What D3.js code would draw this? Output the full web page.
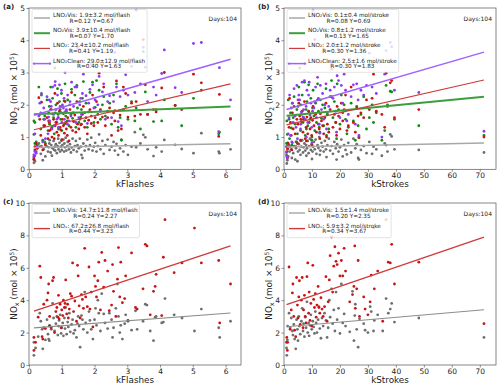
<!DOCTYPE html>
<html><head><meta charset="utf-8">
<script src="https://cdn.jsdelivr.net/npm/d3@7"></script>
<style>
body { margin: 0; background: #fff; }
text { font-family: "DejaVu Sans", sans-serif; }
</style></head>
<body><div id="chart"></div>
<script>
// daily values, columns: kFlashes, LNO2Vis, NO2Vis, LNO2, LNO2Clean  (mol x 10^5)
const daysA = [
 [0.15,0.20,1.50,0.30,0.45],[0.15,0.30,1.08,0.35,0.40],[0.18,0.42,0.80,0.70,0.55],[0.18,0.25,1.45,0.60,1.10],
 [0.22,0.55,0.85,0.80,0.50],[0.25,0.65,0.75,0.65,0.72],[0.30,0.80,2.55,2.22,1.65],[0.33,0.70,1.70,1.55,2.05],
 [0.36,0.48,1.25,1.05,1.75],[0.38,0.72,2.30,2.08,2.35],[0.42,0.28,0.90,0.60,0.85],[0.45,0.62,1.55,1.35,1.90],
 [0.48,0.85,1.65,1.35,1.55],[0.50,0.40,0.80,0.75,0.95],[0.55,0.70,2.15,1.60,2.25],[0.58,0.55,1.20,0.95,1.10],
 [0.60,0.68,1.75,1.50,1.62],[0.62,0.80,1.95,1.45,2.15],[0.63,0.90,1.40,1.20,1.50],[0.66,0.52,2.55,1.85,2.10],
 [0.68,0.75,1.85,1.25,1.95],[0.70,0.42,1.30,1.00,1.25],[0.72,0.65,2.20,1.72,2.55],[0.75,0.88,1.60,1.55,1.70],
 [0.77,0.60,1.10,0.95,1.35],[0.79,0.70,3.14,2.35,2.60],[0.80,0.58,1.75,1.35,2.72],[0.82,0.78,2.00,1.45,1.85],
 [0.85,0.50,1.45,1.15,1.55],[0.87,0.72,2.50,2.05,2.30],[0.89,0.95,1.70,1.60,1.60],[0.90,0.62,1.25,1.05,1.30],
 [0.93,0.82,2.10,1.80,2.62],[0.95,0.55,1.85,1.30,1.95],[0.97,0.70,1.55,1.22,1.75],[0.99,0.88,2.35,1.75,2.45],
 [1.00,0.60,1.20,0.92,1.45],[1.02,0.75,1.95,1.55,2.00],[1.05,0.92,1.72,1.35,1.90],[1.07,0.55,2.12,1.75,2.20],
 [1.08,0.80,1.40,1.12,1.55],[1.10,0.68,2.65,2.10,3.00],[1.12,0.98,1.65,1.45,1.80],[1.14,0.58,1.80,1.25,1.85],
 [1.17,0.72,1.50,1.05,1.40],[1.18,0.85,2.15,1.60,2.30],[1.22,0.62,1.35,0.88,1.50],[1.25,0.78,2.00,1.85,2.10],
 [1.28,0.52,1.70,1.30,1.65],[1.30,0.68,2.48,2.38,2.70],[1.33,0.95,1.58,1.20,1.75],[1.36,0.60,1.75,1.48,1.95],
 [1.40,0.72,2.30,1.68,2.55],[1.43,0.88,1.30,1.15,1.45],[1.46,0.55,2.60,2.10,2.55],[1.48,0.75,1.90,1.40,3.76],
 [1.52,0.65,1.45,1.25,1.60],[1.55,0.95,2.10,1.55,2.00],[1.58,0.70,1.62,1.38,2.20],[1.60,0.45,1.85,1.40,1.70],
 [1.63,0.35,2.20,1.70,2.35],[1.66,0.80,2.72,1.95,2.95],[1.70,0.58,1.50,1.30,1.75],[1.74,0.72,2.05,1.60,2.28],
 [1.78,0.92,1.30,1.10,1.42],[1.82,0.62,1.78,1.52,2.05],[1.86,0.75,2.38,1.85,2.48],[1.90,0.98,1.65,1.42,3.25],
 [1.94,0.58,2.70,2.30,2.62],[1.98,0.70,1.45,1.35,1.90],[2.02,0.82,1.92,1.60,2.15],[2.06,0.55,2.75,2.10,3.72],
 [2.10,0.72,1.70,1.45,2.00],[2.14,1.08,2.45,2.98,2.88],[2.18,0.62,1.55,1.85,1.80],[2.24,0.88,2.00,1.62,2.40],
 [2.28,0.48,2.25,2.55,2.65],[2.33,0.75,1.65,1.35,1.55],[2.40,0.92,1.80,1.60,2.10],[2.46,0.60,2.05,1.90,2.28],
 [2.52,0.70,1.40,1.05,1.60],[2.58,0.85,2.30,1.75,2.10],[2.62,0.58,1.82,1.50,3.62],[2.67,0.79,2.65,2.74,2.55],
 [2.72,0.45,1.30,1.20,1.48],[2.78,0.65,1.60,1.68,2.25],[2.82,0.92,0.90,1.25,1.35],[2.88,0.55,1.85,2.55,2.45],
 [2.95,0.75,1.95,2.35,2.93],[3.02,0.45,1.55,1.62,2.30],[3.13,0.70,2.10,2.05,3.19],[3.23,1.15,1.50,1.65,2.38],
 [3.27,0.68,1.90,2.10,4.93],[3.40,0.80,1.25,1.70,2.65],[3.49,1.07,3.65,4.02,3.78],[3.55,0.99,2.40,2.62,3.17],
 [3.62,0.62,1.70,1.70,2.10],[3.80,0.41,1.48,1.85,2.55],[3.88,0.68,1.85,1.78,2.30],[4.05,0.55,1.50,2.52,2.97],
 [4.13,0.91,2.15,3.00,3.70],[4.46,0.76,1.98,1.98,2.53],[4.66,0.63,1.35,1.85,2.38],[5.02,0.50,2.20,2.95,3.90],
 [5.26,1.12,2.45,2.68,3.93],[5.79,0.55,1.10,1.02,1.17],[5.81,0.50,1.15,2.32,3.15],[6.15,0.62,1.58,1.55,2.15]
];
// columns: kStrokes, LNO2Vis, NO2Vis, LNO2, LNO2Clean
const daysB = [
 [0.9,0.45,0.80,0.70,0.52],[1.0,0.18,1.50,0.55,0.40],[1.2,0.28,1.08,0.35,0.35],[1.3,0.62,0.82,0.65,0.72],
 [1.5,0.40,2.15,0.80,1.10],[1.8,0.75,1.55,1.30,1.60],[2.0,0.55,0.95,2.20,2.30],[2.3,0.70,1.75,1.45,1.05],
 [2.6,0.62,1.28,1.05,1.90],[2.8,0.35,0.75,0.60,0.85],[3.0,0.82,2.05,1.75,2.05],[3.3,0.50,1.60,1.25,1.45],
 [3.6,0.72,2.25,1.95,2.50],[4.0,0.30,1.40,1.10,1.65],[4.3,0.65,0.85,0.70,1.30],[4.6,0.85,1.85,1.55,2.60],
 [4.8,0.25,1.10,0.80,0.95],[5.0,0.55,1.95,1.40,2.15],[5.3,0.78,2.55,2.05,2.30],[5.6,0.60,3.14,1.65,2.15],
 [5.9,0.45,1.20,0.90,1.25],[6.0,0.88,2.00,1.55,1.40],[6.2,0.70,1.70,1.48,1.78],[6.5,0.90,2.30,1.80,2.70],
 [6.8,0.52,1.45,1.15,1.62],[7.0,0.68,1.60,1.55,1.85],[7.3,0.80,2.70,2.10,2.75],[7.6,0.58,1.05,0.95,1.55],
 [7.9,0.75,1.85,1.30,1.95],[8.0,0.42,1.25,0.88,1.00],[8.2,0.65,2.10,1.62,2.45],[8.5,0.88,1.35,1.10,1.45],
 [8.8,0.50,2.62,1.80,2.30],[9.0,0.72,1.75,1.45,2.70],[9.3,0.95,1.55,1.25,1.68],[9.6,0.60,2.20,1.60,2.05],
 [9.9,0.78,0.90,1.05,1.30],[10.0,0.32,1.00,0.75,0.82],[10.2,0.55,1.90,1.52,1.80],[10.4,0.70,2.45,1.95,4.93],
 [10.7,0.85,1.65,1.35,1.90],[11.0,0.62,1.20,4.02,2.10],[11.3,0.92,2.05,1.70,2.55],[11.6,0.48,1.45,1.15,1.60],
 [12.0,0.75,2.65,2.15,2.85],[12.3,0.66,1.80,1.40,2.20],[12.6,1.00,1.30,1.25,1.40],[12.8,0.45,1.15,0.95,1.12],
 [13.0,0.58,2.15,1.72,2.60],[13.4,0.82,1.58,1.50,1.85],[13.8,0.70,2.00,1.35,2.35],[14.2,0.55,1.35,1.10,1.55],
 [14.6,0.88,1.90,1.60,2.00],[15.0,0.62,2.50,2.05,2.65],[15.2,0.38,1.05,1.00,1.25],[15.5,0.75,1.70,1.40,1.75],
 [16.0,0.95,1.25,1.15,1.95],[16.5,0.58,2.25,1.85,2.45],[17.0,0.72,2.75,2.25,3.10],[17.5,0.48,1.60,1.30,2.20],
 [18.0,0.85,2.10,1.70,2.55],[18.5,0.65,1.45,1.45,1.80],[18.8,0.30,0.95,1.05,1.15],[19.0,0.78,2.65,1.95,2.90],
 [19.5,0.55,1.85,1.65,2.75],[20.0,0.68,1.40,1.25,1.60],[20.5,0.92,2.30,2.05,2.60],[21.0,0.40,1.75,1.50,2.05],
 [21.5,0.75,2.00,1.85,2.95],[22.0,0.60,1.55,2.30,2.45],[22.5,0.46,1.10,1.20,1.50],[23.0,0.82,1.30,1.35,1.70],
 [24.0,0.52,2.05,2.55,2.25],[24.8,0.95,1.50,1.45,2.62],[25.5,0.65,0.90,1.15,1.40],[26.0,0.78,1.95,1.90,2.65],
 [26.5,0.35,1.35,1.65,2.15],[26.8,0.30,1.00,0.98,1.05],[27.5,0.60,1.70,1.75,2.45],[28.5,0.72,2.25,1.60,2.30],
 [29.5,0.50,1.25,2.15,2.60],[30.5,0.85,1.60,1.85,3.60],[31.5,0.48,2.00,2.20,2.55],[32.0,0.70,1.45,2.95,3.85],
 [33.0,0.62,1.75,1.80,2.35],[35.0,0.42,0.90,1.70,1.00],[36.0,0.80,1.20,1.30,2.95],[36.5,0.75,2.60,2.98,3.68],
 [37.0,0.55,2.00,1.95,4.79],[38.0,1.08,2.42,2.68,3.93],[38.5,1.02,2.40,2.75,3.80],[39.5,0.62,1.55,1.60,2.45],
 [48.2,0.60,1.35,1.85,2.38],[71.5,0.52,1.05,1.00,1.18]
];
// columns: kFlashes, LNOxVis, LNOx
const daysC = [
 [0.15,0.60,0.90],[0.15,1.40,1.70],[0.20,1.05,1.40],[0.28,1.75,2.95],[0.33,3.20,6.10],[0.36,2.70,5.40],
 [0.40,2.20,1.75],[0.42,1.00,1.60],[0.45,2.30,3.75],[0.50,1.55,2.25],[0.55,2.80,4.00],[0.58,1.90,4.45],
 [0.60,1.60,5.00],[0.62,1.50,2.40],[0.63,2.45,3.00],[0.68,2.20,2.30],[0.72,3.80,5.20],[0.75,2.90,5.40],
 [0.78,2.10,2.00],[0.82,2.55,3.30],[0.85,3.00,3.55],[0.88,1.85,2.95],[0.90,2.40,4.30],[0.92,2.75,2.85],
 [0.95,3.10,3.75],[0.98,1.95,2.30],[1.00,2.30,3.40],[1.03,2.60,3.05],[1.05,1.80,4.00],[1.08,2.90,3.55],
 [1.10,2.25,3.80],[1.12,3.55,5.25],[1.15,1.90,3.15],[1.18,2.65,3.75],[1.20,2.35,2.90],[1.23,3.20,3.45],
 [1.26,2.05,4.40],[1.30,2.50,4.25],[1.33,2.80,6.30],[1.36,1.95,3.30],[1.40,2.15,3.95],[1.45,1.70,2.70],
 [1.48,2.55,6.15],[1.50,3.00,5.50],[1.53,2.40,3.65],[1.56,1.10,2.90],[1.60,3.05,4.35],[1.63,2.80,4.05],
 [1.66,2.20,3.50],[1.70,4.50,7.20],[1.73,2.60,4.20],[1.78,2.00,3.60],[1.83,3.30,6.05],[1.86,2.75,3.45],
 [1.90,2.20,4.50],[1.95,1.60,2.35],[2.00,2.80,5.50],[2.03,3.50,4.85],[2.06,2.45,4.20],[2.10,4.00,5.20],
 [2.13,3.20,6.35],[2.18,2.10,3.40],[2.22,4.40,6.95],[2.28,3.15,4.80],[2.32,2.60,6.45],[2.40,2.25,5.80],
 [2.45,3.20,3.35],[2.52,2.80,3.70],[2.55,1.70,6.20],[2.58,2.30,4.55],[2.65,3.50,3.00],[2.70,5.00,5.30],
 [2.73,3.00,7.25],[2.77,2.00,4.20],[2.80,2.45,6.35],[2.85,1.60,3.85],[2.92,2.55,4.10],[2.95,3.10,5.50],
 [3.02,2.70,2.75],[3.13,2.15,6.92],[3.25,3.35,3.55],[3.30,2.20,3.45],[3.48,2.70,4.70],[3.55,3.75,7.45],
 [3.60,3.70,7.35],[3.70,2.10,3.10],[3.80,1.50,4.55],[3.85,2.95,4.85],[3.88,3.00,5.60],[4.05,2.60,3.05],
 [4.10,2.65,6.65],[4.15,4.10,8.97],[4.43,3.10,5.70],[4.67,2.90,6.30],[5.05,2.10,8.45],[5.26,3.45,6.30],
 [5.79,2.30,6.45],[5.82,1.70,2.60],[6.15,2.70,5.00]
];
// columns: kStrokes, LNOxVis, LNOx
const daysD = [
 [0.9,1.05,1.40],[1.0,0.60,1.70],[1.2,1.55,0.90],[1.3,2.40,1.40],[1.8,3.20,6.05],[2.2,2.30,2.20],
 [2.6,2.90,3.40],[3.0,2.10,4.45],[3.2,1.85,5.00],[3.5,2.50,3.00],[3.8,1.60,2.15],[4.2,1.00,1.75],
 [4.5,2.80,5.40],[4.8,2.20,3.70],[5.0,1.50,2.90],[5.3,3.00,4.20],[5.5,2.40,5.20],[5.8,1.90,2.50],
 [6.2,2.70,4.00],[6.5,3.50,5.40],[6.8,2.10,2.30],[7.0,2.55,3.40],[7.3,1.75,4.30],[7.6,2.95,3.00],
 [7.9,2.30,2.60],[8.2,3.90,5.45],[8.5,2.00,6.30],[8.8,2.60,3.20],[9.0,1.80,4.50],[9.3,2.45,2.75],
 [9.6,3.10,3.80],[9.9,2.20,2.40],[10.3,2.70,6.15],[10.6,2.35,4.05],[10.9,1.95,3.55],[11.2,3.30,4.40],
 [11.5,2.60,2.95],[11.8,2.00,3.70],[12.2,2.80,4.85],[12.5,3.60,3.55],[12.8,2.25,3.20],[13.2,1.65,4.15],
 [13.6,2.90,3.45],[14.0,2.40,3.00],[14.5,3.20,3.60],[15.0,2.75,5.45],[15.4,1.70,2.70],[15.8,2.30,3.90],
 [16.2,4.00,5.25],[16.5,2.95,6.75],[17.0,4.70,7.90],[17.4,2.55,4.50],[17.8,3.40,6.10],[18.2,2.10,7.30],
 [18.6,4.50,6.40],[19.0,2.80,6.20],[19.5,3.50,6.90],[20.0,1.95,5.50],[20.5,5.00,6.45],[21.0,2.60,5.50],
 [21.5,3.15,7.20],[22.0,2.40,5.80],[23.5,2.05,3.90],[24.5,4.55,4.35],[25.0,1.50,4.85],[25.3,3.05,7.35],
 [25.5,3.75,3.50],[26.0,2.20,4.70],[26.5,1.10,6.45],[27.0,2.85,3.00],[28.5,2.55,4.20],[29.0,2.15,3.45],
 [30.0,2.00,3.10],[30.8,3.60,3.90],[31.2,3.30,5.55],[32.0,2.10,8.45],[32.3,2.75,4.70],[33.5,3.10,5.80],
 [35.3,2.10,2.70],[36.5,4.10,8.97],[37.3,3.20,6.35],[38.0,3.45,6.30],[38.5,3.80,7.45],[39.5,2.65,5.00],
 [48.2,2.90,6.35],[71.5,1.70,2.55]
];

// regression lines [intercept, slope]
const fitsA = [[0.67,0.020],[1.70,0.040],[1.19,0.237],[1.63,0.290]];
const fitsB = [[0.69,0.0017],[1.65,0.0084],[1.36,0.0197],[1.83,0.0252]];
const fitsC = [[2.27,0.153],[3.23,0.67]];
const fitsD = [[2.35,0.0148],[3.67,0.059]];

const legendA = [["LNO₂Vis: 1.9±3.2 mol/flash","R=0.12 Y=0.67"],["NO₂Vis: 3.9±10.4 mol/flash","R=0.07 Y=1.70"],
                 ["LNO₂: 23.4±10.2 mol/flash","R=0.41 Y=1.19"],["LNO₂Clean: 29.0±12.9 mol/flash","R=0.40 Y=1.63"]];
const legendB = [["LNO₂Vis: 0.1±0.4 mol/stroke","R=0.08 Y=0.69"],["NO₂Vis: 0.8±1.2 mol/stroke","R=0.13 Y=1.65"],
                 ["LNO₂: 2.0±1.2 mol/stroke","R=0.30 Y=1.36"],["LNO₂Clean: 2.5±1.6 mol/stroke","R=0.30 Y=1.83"]];
const legendC = [["LNOₓVis: 14.7±11.8 mol/flash","R=0.24 Y=2.27"],["LNOₓ: 67.2±26.8 mol/flash","R=0.44 Y=3.23"]];
const legendD = [["LNOₓVis: 1.5±1.4 mol/stroke","R=0.20 Y=2.35"],["LNOₓ: 5.9±3.2 mol/stroke","R=0.34 Y=3.67"]];

const ticksFlash = [0,1,2,3,4,5,6];
const ticksStroke = [0,10,20,30,40,50,60,70];
const ticksNO2 = [0,1,2,3,4,5];
const ticksNOx = [0,2,4,6,8,10];

const dotColors4 = ["#6e6e6e","#138a13","#c81414","#8c3cf0"];
const lineColors4 = ["#a8a8a8","#3c9e3c","#d03a3a","#a060ff"];
const lineWidths4 = [1.5,2,1.2,1.5];
const dotColors2 = ["#6e6e6e","#c81414"];
const lineColors2 = ["#8c8c8c","#d03a3a"];
const lineWidths2 = [1.1,1.4];

const svg = d3.select("#chart").append("svg")
    .attr("width", 500).attr("height", 386);

function drawPanel(p) {
    const x = d3.scaleLinear().domain([0, p.xMax]).range([p.left, p.right]);
    const y = d3.scaleLinear().domain([0, p.yMax]).range([p.bottom, p.top]);
    const g = svg.append("g");

    // axes
    g.append("g").attr("transform", "translate(0," + p.bottom + ")")
        .call(d3.axisBottom(x).tickValues(p.xTicks).tickSize(2.5).tickPadding(1).tickFormat(d3.format("d")))
        .call(a => a.select(".domain").remove());
    g.append("g").attr("transform", "translate(" + p.left + ",0)")
        .call(d3.axisLeft(y).tickValues(p.yTicks).tickSize(2.5).tickPadding(1.5).tickFormat(d3.format("d")))
        .call(a => a.select(".domain").remove());
    g.selectAll(".tick text").attr("font-size", 7.5).attr("fill", "#222")
        .style("font-family", "DejaVu Sans");
    g.selectAll(".tick line").attr("stroke", "#444").attr("stroke-width", 0.6);

    // points
    p.colors.forEach((c, i) => {
        g.append("g").selectAll("circle").data(p.days).enter().append("circle")
            .attr("cx", d => x(d[0])).attr("cy", d => y(d[i + 1]))
            .attr("r", 1.4).attr("fill", c);
    });

    // fit lines
    const xs = d3.extent(p.days, d => d[0]);
    p.fits.forEach((f, i) => {
        g.append("line")
            .attr("x1", x(xs[0])).attr("y1", y(f[0] + f[1] * xs[0]))
            .attr("x2", x(xs[1])).attr("y2", y(f[0] + f[1] * xs[1]))
            .attr("stroke", p.lineColors[i]).attr("stroke-width", p.lineWidths[i]);
    });

    // frame
    g.append("rect").attr("x", p.left).attr("y", p.top)
        .attr("width", p.right - p.left).attr("height", p.bottom - p.top)
        .attr("fill", "none").attr("stroke", "#555").attr("stroke-width", 0.7);

    // legend
    const lg = g.append("g");
    const box = lg.append("rect");
    const x0 = p.left + 3, hx0 = x0 + 2, hx1 = x0 + 18, tx = x0 + 21;
    let maxW = 0;
    p.legend.forEach((l, i) => {
        const yc = p.top + 9.5 + i * p.rowStep;
        const t1 = lg.append("text").attr("x", tx).attr("y", yc - 0.6).attr("font-size", 5.7).attr("fill", "#222").text(l[0]);
        const w = t1.node().getComputedTextLength();
        maxW = Math.max(maxW, w);
        lg.append("text").attr("x", tx + w / 2).attr("y", yc + 5).attr("text-anchor", "middle")
            .attr("font-size", 5.7).attr("fill", "#222").text(l[1]);
        lg.append("line").attr("x1", hx0).attr("x2", hx1).attr("y1", yc + 0.5).attr("y2", yc + 0.5)
            .attr("stroke", p.lineColors[i]).attr("stroke-width", p.lineWidths[i]);
        if (p.markers && i === 3) {
            [hx0, hx1].forEach(mx => lg.append("circle").attr("cx", mx).attr("cy", yc + 0.5).attr("r", 1.2).attr("fill", p.lineColors[i]));
        }
    });
    box.attr("x", x0).attr("y", p.top + 1.5).attr("rx", 1.5)
        .attr("width", tx + maxW + 2 - x0).attr("height", p.rowStep * p.legend.length + 2)
        .attr("fill", "white").attr("fill-opacity", 0.8).attr("stroke", "#d0d0d0").attr("stroke-width", 0.6);

    g.append("text").attr("x", p.right - 4).attr("y", p.top + 12.5).attr("text-anchor", "end")
        .attr("font-size", 6).attr("fill", "#222").text("Days:104");

    // labels
    g.append("text").attr("x", (p.left + p.right) / 2).attr("y", p.bottom + 17.5)
        .attr("text-anchor", "middle").attr("font-size", 8.8).attr("fill", "#222").text(p.xLabel);
    const yl = g.append("text").attr("transform", "translate(" + (p.left - 12) + "," + ((p.top + p.bottom) / 2) + ") rotate(-90)")
        .attr("text-anchor", "middle").attr("font-size", 8.8).attr("fill", "#222");
    yl.append("tspan").text(p.yName);
    yl.append("tspan").attr("font-size", 6.5).attr("dy", 2).text(p.ySub);
    yl.append("tspan").attr("dy", -2).text(" (mol × 10");
    yl.append("tspan").attr("font-size", 6).attr("dy", -3.5).text("5");
    yl.append("tspan").attr("dy", 3.5).text(")");
    g.append("text").attr("x", p.left - 26).attr("y", p.top + 1).attr("font-size", 7)
        .attr("font-weight", "bold").attr("fill", "#222").text(p.tag);
}

drawPanel({tag: "(a)", left: 29, right: 241, top: 8, bottom: 169.3, xMax: 6.47, yMax: 5,
    xTicks: ticksFlash, yTicks: ticksNO2, xLabel: "kFlashes", yName: "NO", ySub: "2",
    days: daysA, fits: fitsA, legend: legendA, colors: dotColors4, lineColors: lineColors4,
    lineWidths: lineWidths4, rowStep: 15.2, markers: true});
drawPanel({tag: "(b)", left: 284, right: 496, top: 8, bottom: 169.3, xMax: 75.8, yMax: 5,
    xTicks: ticksStroke, yTicks: ticksNO2, xLabel: "kStrokes", yName: "NO", ySub: "2",
    days: daysB, fits: fitsB, legend: legendB, colors: dotColors4, lineColors: lineColors4,
    lineWidths: lineWidths4, rowStep: 15.2, markers: true});
drawPanel({tag: "(c)", left: 29, right: 241, top: 203, bottom: 365, xMax: 6.47, yMax: 10,
    xTicks: ticksFlash, yTicks: ticksNOx, xLabel: "kFlashes", yName: "NO", ySub: "x",
    days: daysC, fits: fitsC, legend: legendC, colors: dotColors2, lineColors: lineColors2,
    lineWidths: lineWidths2, rowStep: 15.6, markers: false});
drawPanel({tag: "(d)", left: 284, right: 496, top: 203, bottom: 365, xMax: 75.8, yMax: 10,
    xTicks: ticksStroke, yTicks: ticksNOx, xLabel: "kStrokes", yName: "NO", ySub: "x",
    days: daysD, fits: fitsD, legend: legendD, colors: dotColors2, lineColors: lineColors2,
    lineWidths: lineWidths2, rowStep: 15.6, markers: false});
</script>
</body></html>
